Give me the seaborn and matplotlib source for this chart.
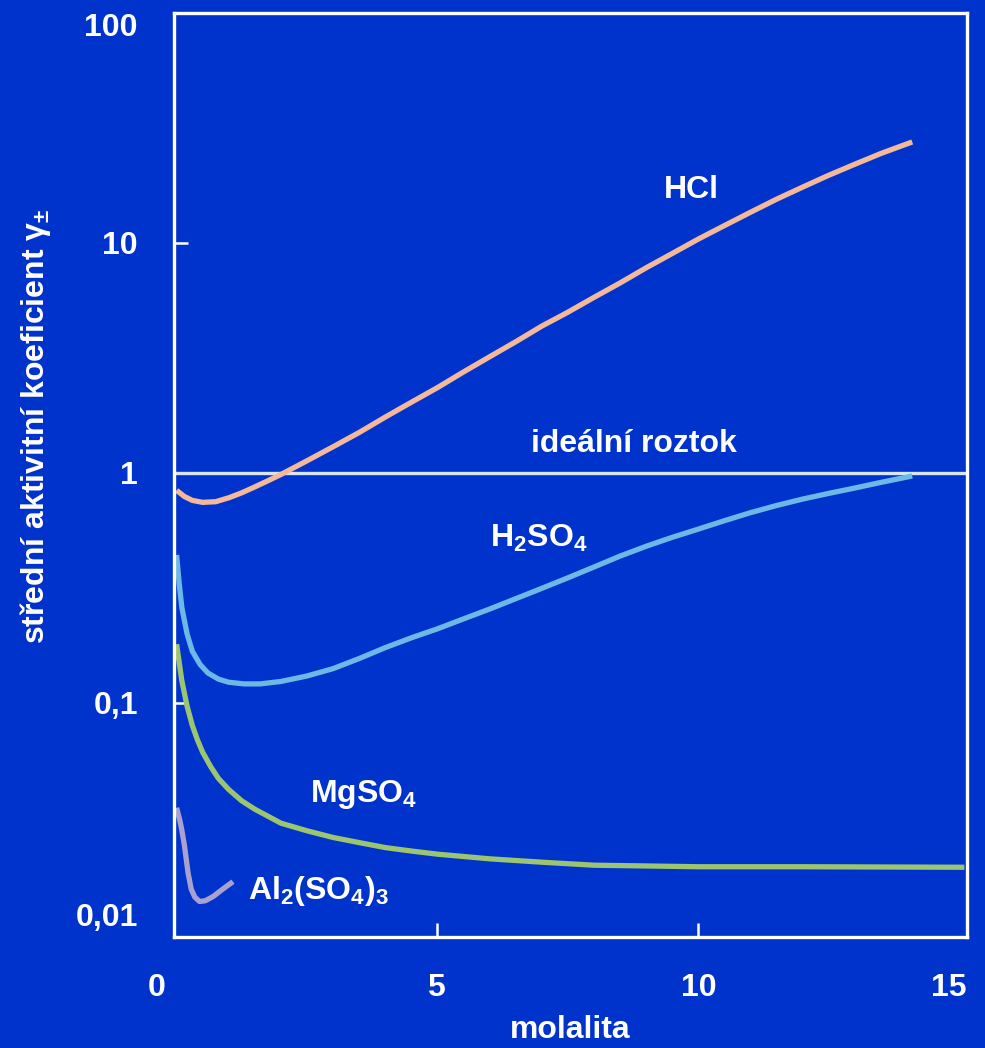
import pandas as pd
import matplotlib
matplotlib.use('Agg')
import matplotlib.pyplot as plt
import matplotlib.transforms as mtransforms
import seaborn as sns

# molalita a střední aktivitní koeficient
hcl_m = [0, 0.15, 0.3, 0.5, 0.75, 1.0, 1.25, 1.5, 1.75, 2.0, 2.5, 3, 3.5, 4, 4.5, 5,
         5.5, 6, 6.5, 7, 7.5, 8, 8.5, 9, 9.5, 10, 10.5, 11, 11.5, 12, 12.5, 13, 13.5, 14.1]
hcl_g = [0.84, 0.79, 0.76, 0.745, 0.75, 0.78, 0.82, 0.87, 0.925, 0.985, 1.13, 1.3,
         1.5, 1.75, 2.03, 2.35, 2.75, 3.2, 3.72, 4.35, 5.0, 5.8, 6.7, 7.8, 9.0, 10.4,
         11.9, 13.6, 15.5, 17.5, 19.7, 22.0, 24.5, 27.5]

h2so4_m = [0, 0.05, 0.1, 0.2, 0.3, 0.45, 0.6, 0.8, 1.0, 1.3, 1.6, 2.0, 2.5, 3, 3.5, 4,
           4.5, 5, 5.5, 6, 6.5, 7, 7.5, 8, 8.5, 9, 9.5, 10, 10.5, 11, 11.5, 12, 12.5,
           13, 13.5, 14.1]
h2so4_g = [0.44, 0.33, 0.26, 0.2, 0.168, 0.147, 0.135, 0.127, 0.123, 0.121, 0.121,
           0.124, 0.131, 0.141, 0.156, 0.174, 0.192, 0.21, 0.232, 0.256, 0.284, 0.315,
           0.35, 0.39, 0.435, 0.48, 0.525, 0.57, 0.62, 0.672, 0.722, 0.77, 0.815,
           0.86, 0.91, 0.97]

mgso4_m = [0, 0.05, 0.1, 0.2, 0.3, 0.4, 0.5, 0.65, 0.8, 1.0, 1.25, 1.5, 2, 2.5, 3,
           3.5, 4, 4.5, 5, 6, 7, 8, 10, 12, 15.1]
mgso4_g = [0.18, 0.15, 0.125, 0.097, 0.08, 0.069, 0.061, 0.053, 0.047, 0.042, 0.0375,
           0.0345, 0.030, 0.0278, 0.026, 0.0247, 0.0235, 0.0227, 0.022, 0.021, 0.0203,
           0.0197, 0.0194, 0.0194, 0.0193]

al_m = [0, 0.06, 0.1, 0.15, 0.22, 0.28, 0.35, 0.44, 0.55, 0.7, 0.9, 1.08]
al_g = [0.035, 0.031, 0.028, 0.024, 0.0182, 0.0155, 0.0143, 0.0137, 0.0138, 0.0144,
        0.0156, 0.0167]

y_ticks = [0.01, 0.1, 1, 10, 100]
y_labels = ['0,01', '0,1', '1', '10', '100']
x_ticks = [0, 5, 10, 15]

bg = '#0033CC'
sns.set_style('ticks')
plt.rcParams['font.family'] = ['Liberation Sans', 'DejaVu Sans']
plt.rcParams['font.weight'] = 'bold'
plt.rcParams['mathtext.fontset'] = 'custom'
plt.rcParams['mathtext.rm'] = 'Liberation Sans:bold'
plt.rcParams['mathtext.it'] = 'Liberation Sans:bold'
plt.rcParams['mathtext.bf'] = 'Liberation Sans:bold'
plt.rcParams['mathtext.default'] = 'rm'

fig = plt.figure(figsize=(9.85, 10.48), dpi=100, facecolor=bg)
ax = fig.add_axes([174 / 985, 1 - 937 / 1048, 793 / 985, 924 / 1048])
ax.set_facecolor(bg)

ax.axhline(1, color='#D8E6F4', lw=2.4, zorder=1)

series = [
    (hcl_m, hcl_g, '#F4B89A'),
    (h2so4_m, h2so4_g, '#6CB8E6'),
    (mgso4_m, mgso4_g, '#9BC56E'),
    (al_m, al_g, '#A9A2CF'),
]
for m, g, c in series:
    df = pd.DataFrame({'molalita': m, 'gamma': g})
    sns.lineplot(data=df, x='molalita', y='gamma', ax=ax, color=c, lw=3.8,
                 sort=False, estimator=None, zorder=2,
                 solid_joinstyle='round', solid_capstyle='butt')

ax.set_yscale('log')
ax.set_xlim(-0.05, 15.15)
ax.set_ylim(0.0096, 100)
ax.set_yticks(y_ticks)
ax.set_yticklabels(y_labels)
ax.set_xticks(x_ticks)
ax.minorticks_off()

for s in ax.spines.values():
    s.set_visible(True)
    s.set_color('white')
    s.set_linewidth(2.4)
ax.tick_params(axis='both', direction='in', color='white', labelcolor='white',
               length=10, width=1.8, labelsize=23)
ax.tick_params(axis='y', pad=26)
ax.tick_params(axis='x', pad=26)

# no tick marks at the frame corners
for ticks in (ax.xaxis.get_major_ticks(), ax.yaxis.get_major_ticks()):
    ticks[0].tick1line.set_visible(False)
    ticks[-1].tick1line.set_visible(False)

ylabs = ax.get_yticklabels()
ylabs[0].set_va('bottom')
ylabs[-1].set_va('top')
for lab, dx in zip(ax.get_xticklabels(), [-20, -2, 0, -10]):
    lab.set_transform(lab.get_transform() +
                      mtransforms.ScaledTranslation(dx / 100, 0, fig.dpi_scale_trans))

ax.set_xlabel('molalita', color='white', fontsize=23, fontweight='bold')
ax.set_ylabel('střední aktivitní koeficient $γ_{±}$', color='white',
              fontsize=23, fontweight='bold')
ax.xaxis.set_label_coords(0.5, -0.084)
ax.yaxis.set_label_coords(-0.152, 0.553)

txt = dict(color='white', fontsize=23, fontweight='bold')
ax.text(9.87, 17, 'HCl', ha='center', va='center', **txt)
ax.text(8.77, 1.23, 'ideální roztok', ha='center', va='baseline', **txt)
ax.text(6.0, 0.476, 'H$_2$SO$_4$', ha='left', va='baseline', **txt)
ax.text(2.55, 0.0372, 'MgSO$_4$', ha='left', va='baseline', **txt)
ax.text(1.36, 0.014, 'Al$_2$(SO$_4$)$_3$', ha='left', va='baseline', **txt)

fig.savefig('out.png', dpi=100, facecolor=bg)
